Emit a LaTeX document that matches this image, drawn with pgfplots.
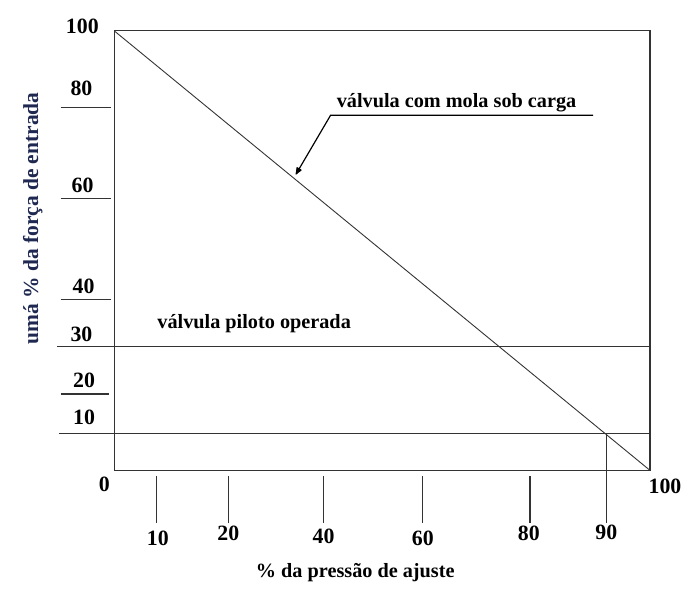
\documentclass[border=0pt]{standalone}
\usepackage{fontspec}
\setmainfont{Liberation Serif}
\usepackage{pgfplots}
\pgfplotsset{compat=1.18}
\usetikzlibrary{arrows.meta}
\definecolor{lin}{HTML}{333333}
\definecolor{txt}{HTML}{1A1A1A}
\definecolor{ylab}{HTML}{1E2850}
\tikzset{num/.style={font=\fontsize{11}{12}\selectfont\bfseries}}
\begin{document}
\begin{tikzpicture}
\begin{axis}[
  width=270pt, height=221.5pt, scale only axis,
  xmin=0, xmax=100, ymin=0, ymax=100,
  xtick=\empty, ytick=\empty,
  axis line style={lin, line width=0.6pt},
  clip=false,
  font=\fontsize{10.2}{12}\selectfont\bfseries,
  every node/.append style={text=txt, font=\fontsize{10.2}{12}\selectfont\bfseries},
]
% invisible frame giving the picture its proportions
\path (axis cs:-21.3,-25.06) rectangle (axis cs:106.1,107.0);
% spring-loaded valve line
\addplot[lin, line width=0.45pt] coordinates {(0,100) (100,0)};
% pilot operated valve line (30) and 10 line
\addplot[lin, line width=0.65pt] coordinates {(-10.6,28.2) (100,28.2)};
\addplot[lin, line width=0.65pt] coordinates {(-10.2,8.35) (100,8.35)};
% vertical line at 90
\addplot[lin, line width=0.65pt] coordinates {(91.85,8.35) (91.85,-11.96)};
% short y tick lines
\addplot[lin, line width=0.65pt] coordinates {(-10.0,82.6) (-0.56,82.6)};
\addplot[lin, line width=0.65pt] coordinates {(-10.0,61.85) (-0.56,61.85)};
\addplot[lin, line width=0.65pt] coordinates {(-10.0,38.8) (-0.56,38.8)};
\addplot[lin, line width=0.65pt] coordinates {(-10.0,17.4) (-0.93,17.4)};
% short x tick lines
\addplot[lin, line width=0.65pt] coordinates {(7.96,-1.35) (7.96,-11.96)};
\addplot[lin, line width=0.65pt] coordinates {(21.3,-1.35) (21.3,-11.96)};
\addplot[lin, line width=0.65pt] coordinates {(39.1,-1.35) (39.1,-11.96)};
\addplot[lin, line width=0.65pt] coordinates {(57.6,-1.35) (57.6,-11.96)};
\addplot[lin, line width=0.65pt] coordinates {(77.6,-1.35) (77.6,-11.96)};
% leader of the annotation
\addplot[black, line width=0.6pt, -{Latex[length=4.5pt,width=3.4pt,round]}] coordinates {(89.4,80.8) (40.4,80.8) (33.9,67.3)};
% y labels
\node[num] at (axis cs:-5.93,101.1) {100};
\node[num] at (axis cs:-6.1,86.9) {80};
\node[num] at (axis cs:-5.9,64.8) {60};
\node[num] at (axis cs:-5.7,41.8) {40};
\node[num] at (axis cs:-6.1,30.9) {30};
\node[num] at (axis cs:-5.6,20.5) {20};
\node[num] at (axis cs:-5.6,12.0) {10};
\node[num] at (axis cs:-1.85,-3.2) {0};
% x labels
\node[num] at (axis cs:8.15,-15.35) {10};
\node[num] at (axis cs:21.3,-14.4) {20};
\node[num] at (axis cs:39.1,-14.9) {40};
\node[num] at (axis cs:57.6,-15.35) {60};
\node[num] at (axis cs:77.4,-14.4) {80};
\node[num] at (axis cs:91.85,-14.2) {90};
\node[num] at (axis cs:102.8,-3.6) {100};
% axis titles
\node at (axis cs:45,-23.3) {\% da pressão de ajuste};
\node[rotate=90, text=ylab, font=\fontsize{10.8}{12}\selectfont\bfseries] at (axis cs:-15.2,57.3) {umá \% da força de entrada};
% annotations
\node at (axis cs:63.9,83.7) {válvula com mola sob carga};
\node[anchor=west, inner sep=0pt] at (axis cs:8.0,33.4) {válvula piloto operada};
\end{axis}
\end{tikzpicture}
\end{document}
